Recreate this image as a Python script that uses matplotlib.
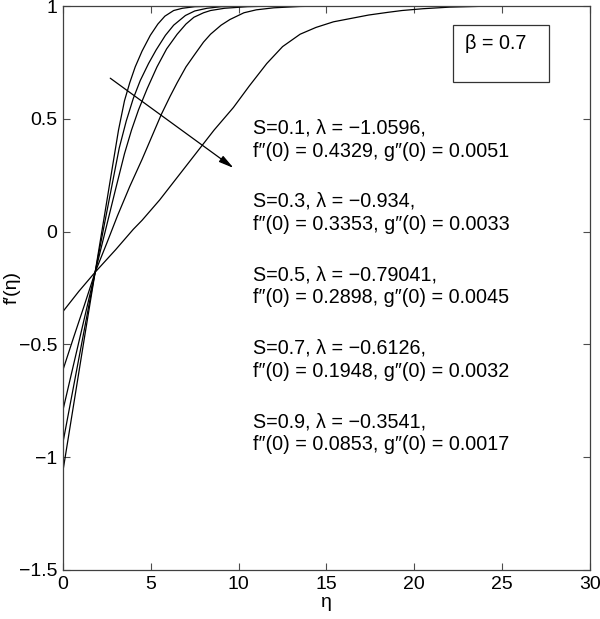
import matplotlib
matplotlib.use("Agg")
import matplotlib.pyplot as plt
from matplotlib.patches import Rectangle

plt.rcParams['font.family'] = ['Liberation Sans', 'DejaVu Sans']

# ---- data ----
S_values = [0.1, 0.3, 0.5, 0.7, 0.9]
lambdas = ["\u22121.0596", "\u22120.934", "\u22120.79041", "\u22120.6126", "\u22120.3541"]
fpp0 = ["0.4329", "0.3353", "0.2898", "0.1948", "0.0853"]
gpp0 = ["0.0051", "0.0033", "0.0045", "0.0032", "0.0017"]

eta1 = [0, 0.6, 1.2, 1.83, 2.4, 2.8, 3.16, 3.5, 3.8, 4.11, 4.5, 4.97, 5.4, 5.8, 6.3, 6.8, 7.5, 9, 30]
f1 = [-1.0596, -0.77, -0.48, -0.18, 0.09, 0.28, 0.45, 0.58, 0.66, 0.73, 0.80, 0.87, 0.92, 0.955, 0.98, 0.99, 0.997, 1.0, 1.0]

eta2 = [0, 0.6, 1.2, 1.83, 2.3, 2.8, 3.2, 3.6, 4.0, 4.4, 4.87, 5.3, 5.83, 6.3, 6.97, 7.5, 8.2, 9, 10.5, 30]
f2 = [-0.934, -0.687, -0.44, -0.18, 0.01, 0.21, 0.37, 0.49, 0.59, 0.67, 0.745, 0.805, 0.87, 0.915, 0.958, 0.978, 0.99, 0.997, 1.0, 1.0]

eta3 = [0, 0.6, 1.2, 1.83, 2.4, 3.0, 3.5, 3.9, 4.3, 4.8, 5.35, 5.9, 6.5, 7.0, 7.45, 8.0, 8.4, 9.2, 10.5, 12, 30]
f3 = [-0.7904, -0.59, -0.39, -0.18, 0.0, 0.19, 0.345, 0.45, 0.54, 0.635, 0.73, 0.81, 0.875, 0.92, 0.95, 0.97, 0.98, 0.99, 0.997, 1.0, 1.0]

eta4 = [0, 0.6, 1.2, 1.83, 2.5, 3.1, 3.8, 4.5, 5.16, 5.6, 6.1, 6.5, 7.0, 7.45, 8.0, 8.4, 9.0, 9.5, 10.3, 11, 12, 13.5, 15, 30]
f4 = [-0.6126, -0.47, -0.33, -0.18, -0.05, 0.07, 0.2, 0.32, 0.44, 0.52, 0.6, 0.66, 0.73, 0.78, 0.84, 0.875, 0.915, 0.94, 0.97, 0.983, 0.992, 0.998, 1.0, 1.0]

eta5 = [0, 0.9, 1.83, 3.0, 4.0, 4.5, 5.5, 6.5, 7.0, 7.8, 8.6, 9.7, 10.6, 11.6, 12.5, 13.5, 14.4, 15.4, 16.4, 17.4, 18.5, 19.3, 20.5, 22, 24, 26, 30]
f5 = [-0.3541, -0.265, -0.18, -0.08, 0.01, 0.05, 0.14, 0.24, 0.29, 0.37, 0.45, 0.55, 0.645, 0.745, 0.82, 0.875, 0.905, 0.93, 0.945, 0.96, 0.972, 0.98, 0.988, 0.995, 0.999, 1.0, 1.0]

curves = [(eta1, f1), (eta2, f2), (eta3, f3), (eta4, f4), (eta5, f5)]

fig = plt.figure(figsize=(6.0, 6.19), dpi=100)
ax = fig.add_axes([0.105, 0.0792, 0.8783, 0.9111])

for x, y in curves:
    ax.plot(x, y, color='black', lw=0.9)

ax.set_xlim(0, 30)
ax.set_ylim(-1.5, 1)
ax.set_xticks([0, 5, 10, 15, 20, 25, 30])
ax.set_yticks([-1.5, -1, -0.5, 0, 0.5, 1])
ax.set_yticklabels(["\u22121.5", "\u22121", "\u22120.5", "0", "0.5", "1"])
ax.tick_params(direction='in', top=True, right=True, length=5, width=0.8,
               labelsize=14, pad=4, color='0.3')
for sp in ax.spines.values():
    sp.set_color('0.25')
    sp.set_linewidth(0.9)

ax.set_xlabel("\u03b7", fontsize=14, labelpad=1)
ax.set_ylabel("f\u2032(\u03b7)", fontsize=14)
ax.yaxis.set_label_coords(-0.081, 0.5)

# arrow
ax.annotate("", xy=(9.71, 0.282), xytext=(2.69, 0.68),
            arrowprops=dict(arrowstyle="-|>,head_length=0.9,head_width=0.22",
                            color='black', lw=0.9, shrinkA=0, shrinkB=0))

# annotation text
y0_px = 128
for i in range(len(S_values)):
    ytop = y0_px + i * 73.5
    yd1 = (231.7 - ytop) / 226.0
    yd2 = (231.7 - (ytop + 23)) / 226.0
    ax.text(10.8, yd1, f"S={S_values[i]}, \u03bb = {lambdas[i]},", fontsize=14.2,
            ha='left', va='center')
    ax.text(10.8, yd2, f"f\u2033(0) = {fpp0[i]}, g\u2033(0) = {gpp0[i]}", fontsize=14.2,
            ha='left', va='center')

# beta box
ax.add_patch(Rectangle((22.23, 0.661), 27.64 - 22.23, 0.915 - 0.661,
                       fill=False, edgecolor='0.2', lw=0.9))
ax.text(22.86, 0.835, "\u03b2 = 0.7", fontsize=14.2, ha='left', va='center')

fig.savefig("out.png", dpi=100)
